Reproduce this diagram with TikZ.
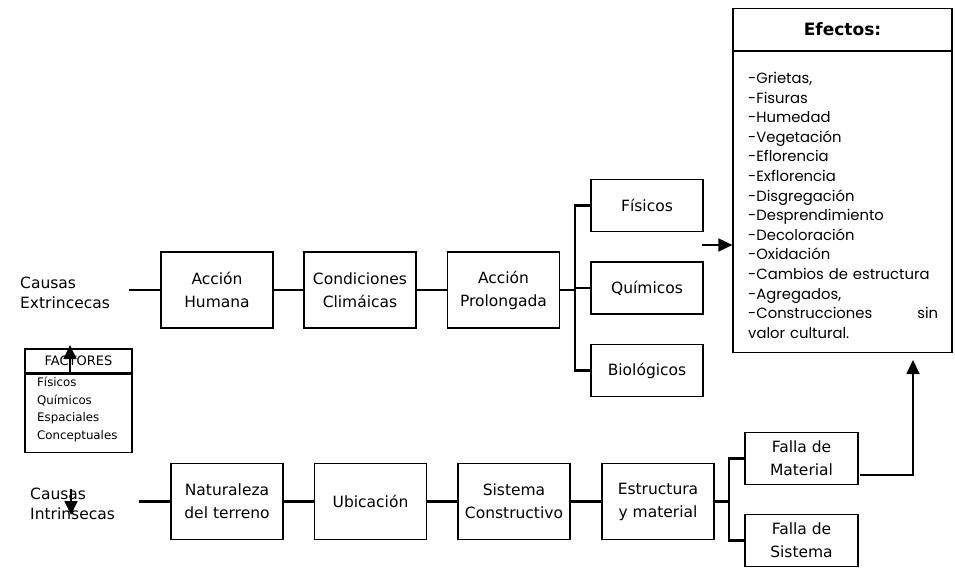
\documentclass[tikz,border=0pt]{standalone}
\usepackage{fontspec}
\setmainfont{DejaVu Sans}
\newfontfamily\listfont{Poppins}
\usetikzlibrary{arrows.meta}

\tikzset{
  box/.style={draw, line width=1.2pt, inner sep=0pt, align=center,
    minimum width=112pt, minimum height=76pt,
    font=\fontsize{15.5}{23}\selectfont},
  smallbox/.style={box, minimum height=52pt},
  link/.style={line width=2.6pt},
  arr/.style={line width=1.8pt, -{Triangle[length=14pt, width=13pt]}},
  causes/.style={align=left, inner sep=0pt, anchor=west,
    font=\fontsize{15.5}{20}\selectfont}
}

\begin{document}
\begin{tikzpicture}[x=1pt, y=-1pt]
    \useasboundingbox (0,0) rectangle (955,568);
    %% --- Extrinsic causes (top row) ---
    \node[causes] (causasE) at (20,293) {Causas\\Extrincecas};
    \coordinate (startE) at (129,290);
    \node[box] (humana)    at (217,290)   {Acción\\Humana};
    \node[box] (climaticas) at (360,290)  {Condiciones\\Climáicas};
    \node[box] (prolongada) at (503.5,290) {Acción\\Prolongada};
    \draw[link] (startE) -- (humana);
    \draw[link] (humana) -- (climaticas);
    \draw[link] (climaticas) -- (prolongada);
    %% branches
    \node[smallbox] (fisicos)    at (647,205.5) {Físicos};
    \node[smallbox] (quimicos)   at (647,288)   {Químicos};
    \node[smallbox] (biologicos) at (647,370.5) {Biológicos};
    \coordinate (forkE) at (575,290);
    \draw[link] (prolongada.east) -- (forkE);
    \foreach \b in {fisicos, quimicos, biologicos} {
      \draw[link] (forkE) |- (\b.west);
    }
    %% --- Effects box ---
    \node[draw, line width=1.2pt, minimum width=219pt, minimum height=42pt,
      inner sep=0pt, font=\bfseries\fontsize{17}{20}\selectfont]
      (efhead) at (842.5,29.5) {Efectos:};
    \node[draw, line width=1.2pt, minimum width=219pt, minimum height=301pt,
      inner sep=0pt, anchor=north] (efbody) at (efhead.south) {};
    \node[anchor=north west, inner sep=0pt, text width=190pt, align=left,
      font=\listfont\fontsize{14.8}{19.6}\selectfont] (eflist) at (748,72)
      {-Grietas,\\-Fisuras\\-Humedad\\-Vegetación\\-Eflorencia\\-Exflorencia\\
       -Disgregación\\-Desprendimiento\\-Decoloración\\-Oxidación\\
       -Cambios de estructura\\-Agregados,\\-Construcciones\hfill sin\\
       valor cultural.};
    \coordinate (inE) at (702,245);
    \draw[arr] (inE) -- (inE -| efbody.west);
    %% --- Factores box ---
    \node[draw, line width=1.2pt, minimum width=107pt, minimum height=24pt,
      inner sep=0pt, font=\fontsize{13}{15}\selectfont]
      (factores) at (78.5,361) {FACTORES};
    \node[draw, line width=1.2pt, minimum width=107pt, minimum height=78pt,
      inner sep=0pt, anchor=north] (factbody) at (factores.south) {};
    \node[anchor=north west, inner sep=0pt, align=left,
      font=\fontsize{11.8}{17.5}\selectfont] (factlist) at (37,377)
      {Físicos\\Químicos\\Espaciales\\Conceptuales};
    \coordinate (upF) at (70,375);
    \draw[arr] (upF) -- (70,345);
    %% --- Intrinsic causes (bottom row) ---
    \node[causes] (causasI) at (30,504) {Causas\\Intrinsecas};
    \coordinate (startI) at (139,501.5);
    \node[box] (terreno)    at (227,501.5)   {Naturaleza\\del terreno};
    \node[box] (ubicacion)  at (370.5,501.5) {Ubicación};
    \node[box] (sistema)    at (514,501.5)   {Sistema\\Constructivo};
    \node[box] (estructura) at (658,501.5)   {Estructura\\y material};
    \draw[link] (startI) -- (terreno);
    \draw[link] (terreno) -- (ubicacion);
    \draw[link] (ubicacion) -- (sistema);
    \draw[link] (sistema) -- (estructura);
    \coordinate (downI) at (71,489);
    \draw[arr] (downI) -- (71,515);
    %% failures
    \node[smallbox, minimum width=113pt] (fmaterial) at (801.5,458.5) {Falla de\\Material};
    \node[smallbox, minimum width=113pt] (fsistema)  at (801.5,540.5) {Falla de\\Sistema};
    \coordinate (forkI) at (729,501.5);
    \draw[link] (estructura.east) -- (forkI);
    \draw[link] (forkI) |- (fmaterial.west);
    \draw[link] (forkI) |- (fsistema.west);
    %% back up to the effects
    \coordinate (outM) at (860,475);
    \coordinate (upE) at (913,351);
    \draw[arr, shorten >=9pt] (outM) -| (upE);
\end{tikzpicture}
\end{document}
